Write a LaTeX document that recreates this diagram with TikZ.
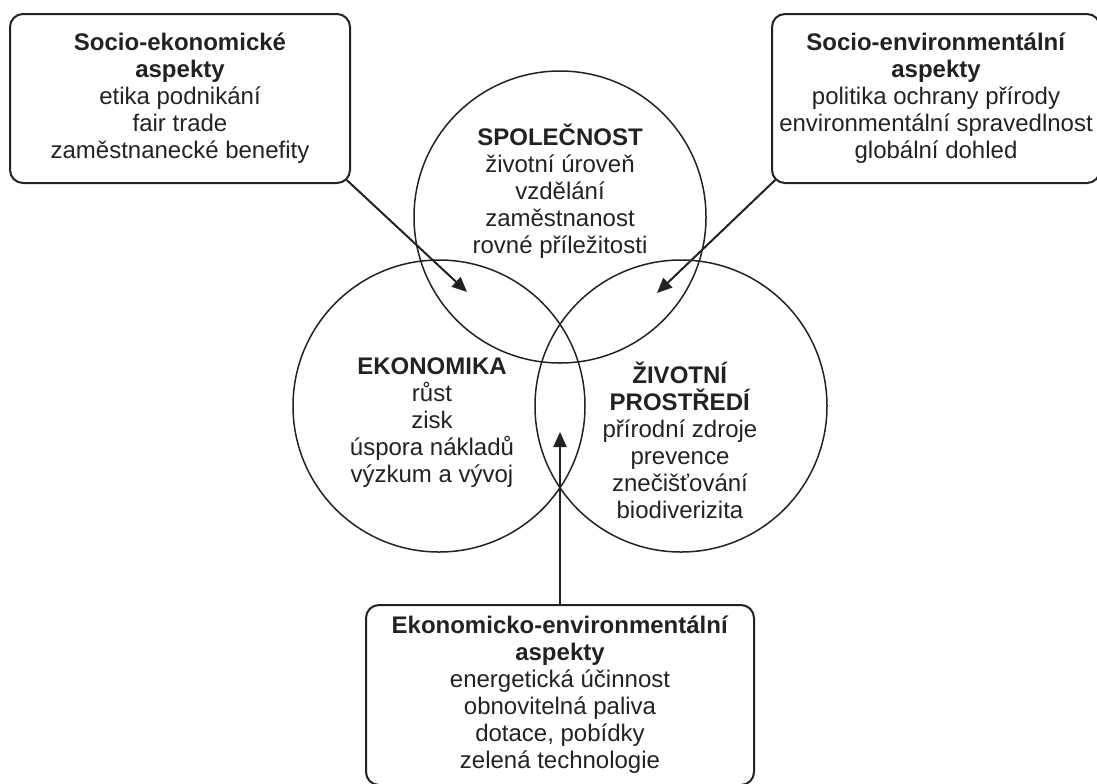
\documentclass[tikz,border=0pt]{standalone}
\usepackage{fontspec}
\setmainfont{Liberation Sans}
\usetikzlibrary{arrows.meta}
\definecolor{ink}{HTML}{222222}

\begin{document}
\begin{tikzpicture}[x=0.5pt, y=-0.5pt,
  kruh/.style={circle, draw=ink, line width=0.75pt, minimum size=146pt, inner sep=0pt},
  popis/.style={align=center, font=\fontsize{12}{13.5}\selectfont, text=ink, inner sep=0pt},
  aspekt/.style={draw=ink, line width=1pt, rounded corners=6.5pt, align=center, font=\fontsize{12}{13.5}\selectfont, text=ink, inner sep=0pt},
  sipka/.style={draw=ink, line width=1pt, -{Triangle[length=7.5pt,width=6.5pt]}}]
            \useasboundingbox (0,0) rectangle (1097,783);
            \node[kruh] (spol) at (560,217) {};
            \node[kruh] (ekon) at (439,406) {};
            \node[kruh] (zivp) at (681,406) {};
            \node[popis] (spoltext) at (560,191) {\textbf{SPOLEČNOST}\\životní úroveň\\vzdělání\\zaměstnanost\\rovné příležitosti};
            \node[popis] (ekontext) at (432,423) {\textbf{EKONOMIKA}\\růst\\zisk\\úspora nákladů\\výzkum a vývoj};
            \node[popis] (zivptext) at (680,440) {\textbf{ŽIVOTNÍ}\\\textbf{PROSTŘEDÍ}\\přírodní zdroje\\prevence\\znečišťování\\biodiverizita};
            \node[aspekt, minimum width=170pt, minimum height=84.5pt] (sebox) at (180,98.5) {\textbf{Socio-ekonomické}\\\textbf{aspekty}\\etika podnikání\\fair trade\\zaměstnanecké benefity};
            \node[aspekt, minimum width=164pt, minimum height=84.5pt] (seebox) at (936,98.5) {\textbf{Socio-environmentální}\\\textbf{aspekty}\\politika ochrany přírody\\environmentální spravedlnost\\globální dohled};
            \node[aspekt, minimum width=194pt, minimum height=90pt] (eebox) at (560,695) {\textbf{Ekonomicko-environmentální}\\\textbf{aspekty}\\energetická účinnost\\obnovitelná paliva\\dotace, pobídky\\zelená technologie};
            \coordinate (setip) at (467,292);
            \coordinate (seetip) at (657,293);
            \coordinate (eetip) at (560,432);
            \draw[sipka, shorten <=-3pt] (sebox.south east) -- (setip);
            \draw[sipka, shorten <=-3pt] (seebox.south west) -- (seetip);
            \draw[sipka] (eebox.north) -- (eetip);
\end{tikzpicture}
\end{document}
